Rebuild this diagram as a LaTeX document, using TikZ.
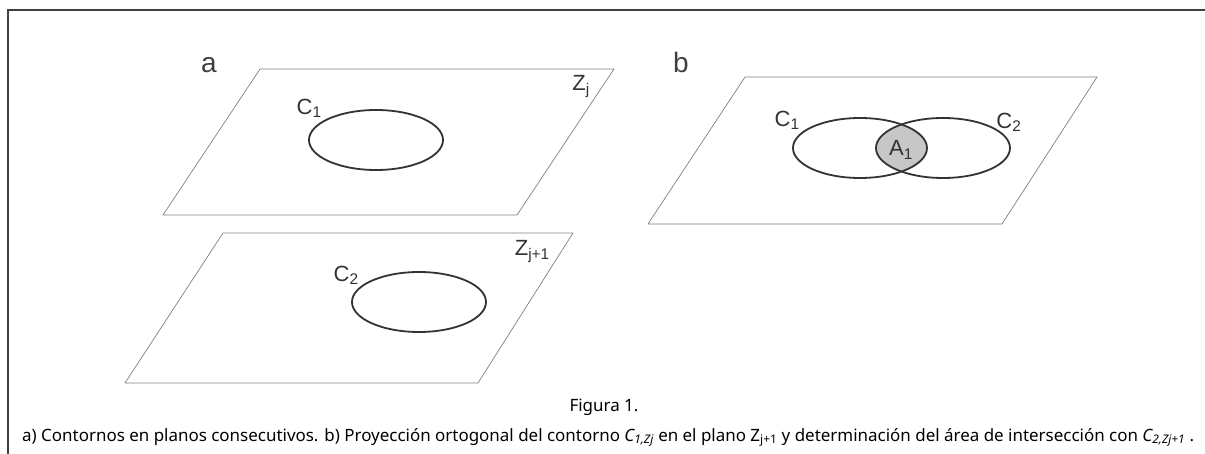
\documentclass[tikz,border=0pt]{standalone}
\usepackage{fontspec}
\setmainfont{Noto Sans}
\newfontfamily\lblfont{Liberation Sans}
\usetikzlibrary{positioning,shapes.geometric}

\newcommand\leyendatxt{a) Contornos en planos consecutivos. b) Proyección ortogonal del contorno \textit{C\textsubscript{1,Zj}} en el plano Z\textsubscript{j+1} y determinación del área de intersección con \textit{C\textsubscript{2,Zj+1}} .}
\newlength\leyendaw

\tikzset{
  plane/.style={draw=black!50, line width=0.7pt, line join=round},
  contour/.style={ellipse, draw=black!80, line width=1.8pt, minimum width=134pt, minimum height=60pt, inner sep=0pt},
  lbl/.style={font=\lblfont\fontsize{22}{22}\selectfont, inner sep=0pt, text=black!80},
  panel/.style={font=\lblfont\fontsize{28}{28}\selectfont, inner sep=0pt, text=black!75},
  capt/.style={font=\fontsize{\captsize}{\captsize}\selectfont, inner sep=0pt},
  frame/.style={draw=black!75, line width=1.6pt}
}

\begin{document}
\settowidth\leyendaw{\normalfont\fontsize{10}{12}\selectfont\leyendatxt}
\pgfmathsetmacro\captsize{10*1173/\leyendaw}
\begin{tikzpicture}[x=1pt,y=-1pt]
\useasboundingbox (0,0) rectangle (1205,454);
\draw[frame] (8,454) -- (8,10) -- (1205,10);

% a) plano Zj
\coordinate (za-sw) at (163,215); \coordinate (za-se) at (517,215);
\coordinate (za-ne) at (614,69);  \coordinate (za-nw) at (260,69);
\draw[plane] (za-sw) -- (za-se) -- (za-ne) -- (za-nw) -- cycle;
\node[contour] (c1) at (376,140) {};
\node[lbl, above=22pt of c1.west, xshift=1pt] (c1txt) {C\textsubscript{1}};
\node[lbl, below left=6pt and 24pt of za-ne] (zj) {Z\textsubscript{j}};
\node[panel, anchor=base] (pa) at (209,73) {a};

% a) plano Zj+1
\coordinate (zb-sw) at (125,383); \coordinate (zb-se) at (478,383);
\coordinate (zb-ne) at (573,233); \coordinate (zb-nw) at (223,233);
\draw[plane] (zb-sw) -- (zb-se) -- (zb-ne) -- (zb-nw) -- cycle;
\node[contour] (c2) at (419,302) {};
\node[lbl, above=17pt of c2.west, xshift=-5pt] (c2txt) {C\textsubscript{2}};
\node[lbl, below left=7pt and 23pt of zb-ne] (zj1) {Z\textsubscript{j+1}};

% b) proyeccion
\coordinate (pb-sw) at (648,224); \coordinate (pb-se) at (1002,224);
\coordinate (pb-ne) at (1097,77); \coordinate (pb-nw) at (745,77);
\draw[plane] (pb-sw) -- (pb-se) -- (pb-ne) -- (pb-nw) -- cycle;
\node[panel, anchor=base] (pb) at (681,73) {b};
\begin{scope}
  \clip (860,148) ellipse [x radius=67, y radius=30];
  \fill[black!22] (943,148) ellipse [x radius=67, y radius=30];
\end{scope}
\node[contour] (bc1) at (860,148) {};
\node[contour] (bc2) at (943,148) {};
\node[lbl] (area) at (901,150) {A\textsubscript{1}};
\node[lbl, above=18pt of bc1.west, xshift=-5pt] (bc1txt) {C\textsubscript{1}};
\node[lbl, above=16pt of bc2.east, xshift=-2pt] (bc2txt) {C\textsubscript{2}};

% pie de figura
\node[capt, anchor=base] (fig) at (604,411) {Figura 1.};
\node[capt, anchor=base west] (leyenda) at (22,441) {\leyendatxt};
\end{tikzpicture}
\end{document}
